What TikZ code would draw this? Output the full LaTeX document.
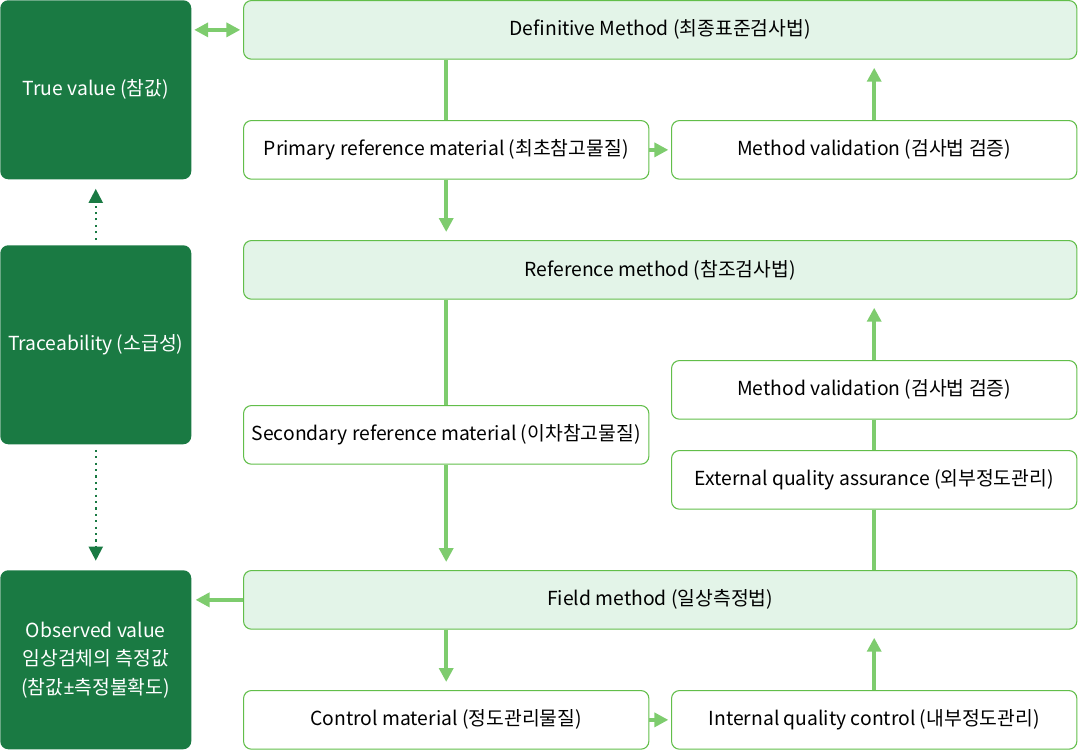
\documentclass[tikz,border=0pt]{standalone}
\usepackage{fontspec}
\setmainfont{Noto Sans CJK KR}
\newfontfamily\latinfont{Noto Sans}
\usetikzlibrary{arrows.meta, positioning}

\definecolor{valuegreen}{RGB}{26,122,67}
\definecolor{methodfill}{RGB}{227,244,232}
\definecolor{boxline}{RGB}{98,190,74}
\definecolor{linkgreen}{RGB}{126,204,110}

\begin{document}
\begin{tikzpicture}[x=0.75pt, y=-0.75pt,
    every node/.style={font=\fontsize{14.5pt}{21.4pt}\selectfont, inner sep=0pt, anchor=north west},
    valuebox/.style={fill=valuegreen, text=white, rounded corners=6pt, align=center, minimum width=143.25pt},
    methodbox/.style={draw=boxline, line width=0.8pt, fill=methodfill, rounded corners=6pt, minimum width=625pt, minimum height=44pt},
    materialbox/.style={draw=boxline, line width=0.8pt, fill=white, rounded corners=6pt, minimum width=304pt, minimum height=44pt},
    link/.style={draw=linkgreen, line width=3pt},
    flow/.style={link, -{Triangle[length=10.5pt, width=10.5pt]}, shorten >=6pt},
    trace/.style={draw=valuegreen, line width=1.6pt, dash pattern=on 1.6pt off 3.2pt, -{Triangle[length=10.5pt, width=10.5pt]}, shorten >=7pt, shorten <=4pt}]
    \useasboundingbox (0,0) rectangle (1078,750);

    % left column
    \node[valuebox, minimum height=134.25pt] (true) at (0,0) {True value (참값)};
    \node[valuebox, minimum height=149.25pt] (trace) at (0,245) {Traceability (소급성)};
    \node[valuebox, minimum height=134.25pt] (observed) at (0,570) {Observed value\\임상검체의 측정값\\(참값{\latinfont ±}측정불확도)};

    % methods
    \node[methodbox] (definitive) at (243,0) {Definitive Method (최종표준검사법)};
    \node[methodbox] (reference) at (243,240) {Reference method (참조검사법)};
    \node[methodbox] (field) at (243,570) {Field method (일상측정법)};

    % materials and checks
    \node[materialbox] (primary) at (243,120) {Primary reference material (최초참고물질)};
    \node[materialbox] (valid1) at (671,120) {Method validation (검사법 검증)};
    \node[materialbox] (secondary) at (243,405) {Secondary reference material (이차참고물질)};
    \node[materialbox] (valid2) at (671,360) {Method validation (검사법 검증)};
    \node[materialbox] (external) at (671,450) {External quality assurance (외부정도관리)};
    \node[materialbox] (control) at (243,690) {Control material (정도관리물질)};
    \node[materialbox] (internal) at (671,690) {Internal quality control (내부정도관리)};

    % links
    \draw[link, {Triangle[length=10.5pt, width=10.5pt]}-{Triangle[length=10.5pt, width=10.5pt]}, shorten <=2pt, shorten >=2pt] (true.east |- definitive.west) -- (definitive.west);
    \draw[link] (primary.north) -- (primary.north |- definitive.south);
    \draw[flow] (primary.south) -- (primary.south |- reference.north);
    \draw[flow, shorten >=2pt] (primary.east) -- (valid1.west);
    \draw[flow] (valid1.north) -- (valid1.north |- definitive.south);
    \draw[link] (secondary.north) -- (secondary.north |- reference.south);
    \draw[flow] (secondary.south) -- (secondary.south |- field.north);
    \draw[link] (external.south) -- (external.south |- field.north);
    \draw[link] (external.north) -- (valid2.south);
    \draw[flow] (valid2.north) -- (valid2.north |- reference.south);
    \draw[flow, shorten >=3pt] (field.west) -- (field.west -| observed.east);
    \draw[flow] (control.north |- field.south) -- (control.north);
    \draw[flow, shorten >=2pt] (control.east) -- (internal.west);
    \draw[flow] (internal.north) -- (internal.north |- field.south);

    % traceability
    \draw[trace] (trace.north) -- (true.south);
    \draw[trace] (trace.south) -- (observed.north);
\end{tikzpicture}
\end{document}
